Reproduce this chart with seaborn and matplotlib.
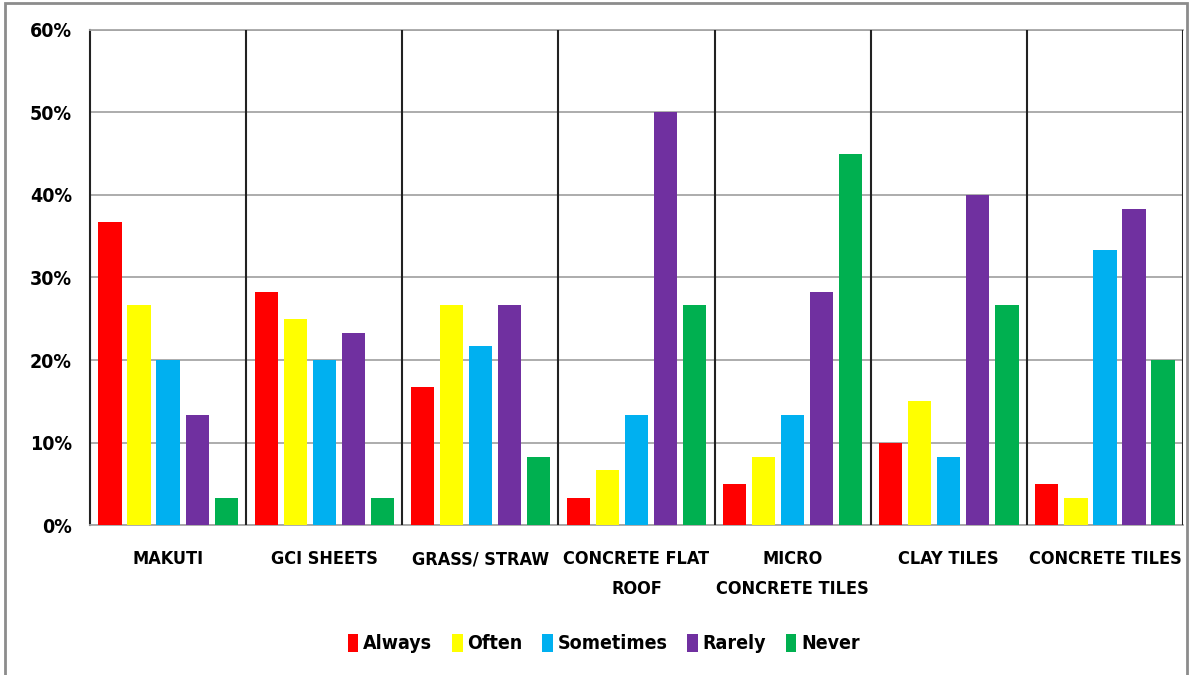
import seaborn as sns
import matplotlib.pyplot as plt
import pandas as pd
from matplotlib.patches import Rectangle

# Roofing material vs. response frequency (share of respondents)
materials = ['MAKUTI', 'GCI SHEETS', 'GRASS/ STRAW', 'CONCRETE FLAT\nROOF',
             'MICRO\nCONCRETE TILES', 'CLAY TILES', 'CONCRETE TILES']
responses = ['Always', 'Often', 'Sometimes', 'Rarely', 'Never']
always = [36.7, 28.3, 16.7, 3.3, 5.0, 10.0, 5.0]
often = [26.7, 25.0, 26.7, 6.7, 8.3, 15.0, 3.3]
sometimes = [20.0, 20.0, 21.7, 13.3, 13.3, 8.3, 33.3]
rarely = [13.3, 23.3, 26.7, 50.0, 28.3, 40.0, 38.3]
never = [3.3, 3.3, 8.3, 26.7, 45.0, 26.7, 20.0]
colors = ['#ff0000', '#ffff00', '#00b0f0', '#7030a0', '#00b050']

series = dict(zip(responses, [always, often, sometimes, rarely, never]))
rows = []
for resp, vals in series.items():
    for mat, v in zip(materials, vals):
        rows.append({'Material': mat, 'Response': resp, 'Share': v})
df = pd.DataFrame(rows)

sns.set_style('white')
plt.rcParams['font.family'] = ['DejaVu Sans']
plt.rcParams['font.stretch'] = 'condensed'
plt.rcParams['font.weight'] = 'bold'
for k in ['text.color', 'xtick.color', 'ytick.color', 'axes.labelcolor']:
    plt.rcParams[k] = 'black'

fig = plt.figure(figsize=(11.91, 6.75), dpi=100)
ax = fig.add_axes([0.0756, 0.2222, 0.9177, 0.7334])

sns.barplot(data=df, x='Material', y='Share', hue='Response',
            order=materials, hue_order=responses, palette=colors,
            saturation=1, width=0.93, gap=0.2, edgecolor='none', ax=ax, zorder=3)

ax.set_ylim(0, 60)
ax.set_xlim(-0.5, len(materials) - 0.5)
ax.set_yticks(range(0, 61, 10))
ax.set_yticklabels([f'{t}%' for t in range(0, 61, 10)], fontsize=14, fontweight='bold')
ax.tick_params(axis='x', labelsize=13, pad=18, length=0)
ax.tick_params(axis='y', length=0, pad=13)
for lab in ax.get_xticklabels():
    lab.set_fontweight('bold')
    lab.set_linespacing(1.85)
    lab.set_verticalalignment('top')
ax.set_xlabel('')
ax.set_ylabel('')

ax.yaxis.grid(True, color='#a6a6a6', linewidth=1.3, zorder=0)
for i in range(len(materials)):
    ax.axvline(i + 0.5, color='#222222', linewidth=1.5, zorder=4)

for side in ['top', 'bottom']:
    ax.spines[side].set_color('#a6a6a6')
    ax.spines[side].set_linewidth(1.3)
ax.spines['left'].set_color('#222222')
ax.spines['left'].set_linewidth(1.5)
ax.spines['right'].set_visible(False)

ax.legend(loc='upper center', bbox_to_anchor=(0.47, -0.185), ncol=5,
          frameon=False, handlelength=0.55, handleheight=1.0,
          handletextpad=0.25, columnspacing=1.0,
          prop={'weight': 'bold', 'size': 14, 'stretch': 'condensed'})

# Outer chart border
fig.patches.append(Rectangle((0.0045, -0.01), 0.9925, 1.005, transform=fig.transFigure,
                             fill=False, edgecolor='#8c8c8c', linewidth=2))

plt.savefig('out.png', dpi=100)
plt.close()
